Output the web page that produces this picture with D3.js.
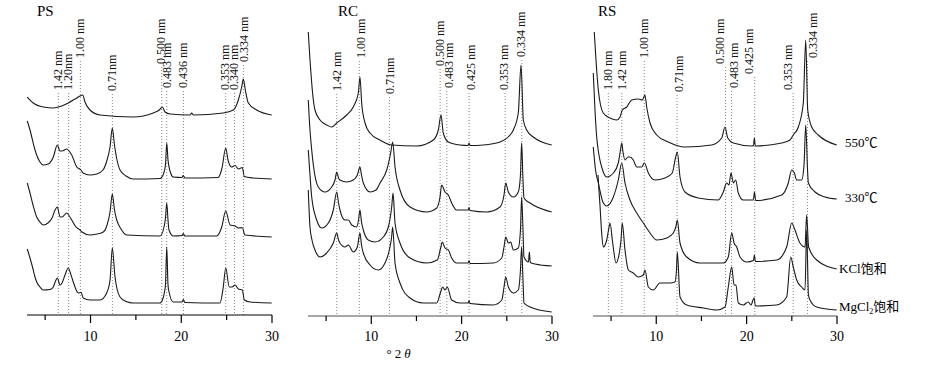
<!DOCTYPE html>
<html>
<head>
<meta charset="utf-8">
<script src="https://cdn.jsdelivr.net/npm/d3@7"></script>
<style>
  body { margin: 0; background: #fff; }
  svg { display: block; font-family: "Liberation Serif", "Noto Sans CJK SC", serif; }
</style>
</head>
<body>
<svg id="chart" width="926" height="365"></svg>
<script>
// ---- data: [2theta, relative intensity] ----
var psTrace1 = [[3.03,218],[3.69,212],[4.80,208],[5.90,207],[6.45,208],[6.82,209],[7.55,212],[8.29,216],[8.84,219],[9.14,220],[9.39,213],[9.94,205],[11.05,200],[14.71,198],[16.92,202],[17.58,205],[17.91,208],[18.21,203],[18.76,201],[20.96,200],[21.15,202],[21.33,200],[24.63,202],[25.74,205],[26.29,215],[26.66,228],[26.84,236],[27.06,225],[27.39,212],[28.31,205],[29.97,200]];
var psTrace2 = [[3.03,194],[3.33,185],[3.88,165],[4.43,153],[4.80,150],[5.35,151],[5.90,158],[6.34,170],[6.64,164],[6.86,164],[7.38,166],[7.63,164],[7.93,160],[8.48,148],[8.95,145],[9.17,142],[9.94,140],[10.68,141],[11.38,145],[11.82,155],[12.15,168],[12.40,187],[12.64,170],[12.92,155],[13.25,145],[13.91,139],[14.71,136],[17.66,136.5],[18.04,141],[18.26,150],[18.40,172],[18.54,155],[18.76,144],[19.12,138],[20.08,137.5],[20.22,139.5],[20.41,137],[24.05,137.5],[24.49,147],[24.90,167],[25.15,155],[25.56,148],[25.93,149.5],[26.29,146],[26.73,147.5],[26.95,138.5],[27.94,137],[29.97,136]];
var psTrace3 = [[3.03,132],[3.33,122],[3.66,110],[4.07,98],[4.43,93],[4.80,90],[5.31,92],[5.76,97],[6.09,105],[6.34,108],[6.64,98],[6.86,98],[7.38,102],[7.63,99.5],[7.93,95],[8.40,88],[8.84,85],[9.06,83],[9.94,80],[10.71,81],[11.41,83],[11.82,90],[12.15,103],[12.40,121],[12.64,105],[12.89,95],[13.36,86],[13.99,80],[17.66,79],[18.10,88],[18.26,97],[18.40,112],[18.54,95],[18.65,85],[19.12,79],[20.08,79.5],[20.22,81.5],[20.41,79],[23.91,79],[24.46,88],[24.90,104],[25.38,90],[25.93,89],[26.29,87],[26.73,87.3],[27.02,80],[29.97,78]];
var psTrace4 = [[3.03,66],[3.33,57],[3.69,45],[3.82,40],[4.07,33],[4.43,28],[4.80,25],[5.53,25.5],[5.90,28],[6.14,34],[6.34,37],[6.64,30],[6.86,32],[7.19,40],[7.55,47],[7.85,40],[8.10,33],[8.65,22],[8.95,22.7],[9.20,17],[9.94,15],[11.05,15],[11.78,22],[12.15,35],[12.40,67],[12.70,38],[13.25,18],[13.91,13.5],[14.71,12],[17.66,12],[18.03,18],[18.26,30],[18.40,68],[18.54,30],[18.68,22],[19.12,13],[20.08,13],[20.22,15.5],[20.41,12.5],[24.27,12],[24.63,28],[24.90,47],[25.29,28],[25.59,28],[25.93,30],[26.29,26],[26.73,25],[26.95,15],[27.58,13],[29.97,12]];

var rcTrace1 = [[3.03,283],[3.22,255],[3.41,232],[3.59,215],[3.77,205],[4.33,195],[5.07,190],[5.62,188],[6.18,192],[7.28,200],[8.01,208],[8.57,222],[8.75,238],[8.94,212],[9.31,192],[9.86,182],[10.97,175],[12.26,170],[15.03,169],[16.87,175],[17.42,185],[17.72,200],[17.97,182],[18.53,173],[19.82,170],[20.71,169.5],[20.82,172],[20.93,169.5],[22.40,170],[24.25,173],[25.16,178],[25.72,185],[26.27,202],[26.57,250],[26.83,195],[27.20,185],[27.93,178],[29.97,170]];
var rcTrace2 = [[3.03,215],[3.22,185],[3.41,165],[3.59,150],[4.14,128],[4.88,123],[5.62,128],[5.99,135],[6.18,143],[6.38,137],[6.54,135],[7.28,133],[8.01,135],[8.46,140],[8.75,148],[8.92,140],[9.12,132],[9.86,123],[10.52,125],[10.97,132],[11.71,145],[12.15,162],[12.37,173],[12.63,148],[13.18,125],[14.29,108],[16.13,103],[17.24,107],[17.61,118],[17.79,130],[18.16,123],[18.53,120],[18.90,112],[19.45,105],[20.71,105],[20.82,107.5],[20.93,104.5],[22.77,103],[24.25,108],[24.69,120],[24.88,132],[25.17,123],[25.72,118],[26.27,123],[26.51,140],[26.64,172],[26.79,135],[26.90,117],[27.57,112],[29.97,103]];
var rcTrace3 = [[3.03,165],[3.22,140],[3.41,118],[3.96,95],[4.52,87],[5.25,92],[5.80,105],[6.18,123],[6.38,112],[6.54,105],[7.09,95],[7.46,95],[7.84,90],[8.39,88],[8.59,95],[8.75,105],[8.92,93],[9.12,85],[9.67,75],[10.41,73],[11.33,78],[11.89,88],[12.26,108],[12.41,122],[12.63,92],[13.18,72],[14.29,57],[16.13,52],[17.31,55],[17.68,67],[17.86,73],[18.16,67],[18.53,65],[18.90,57],[19.45,52],[20.71,52],[20.82,54.5],[20.93,51.5],[23.51,52],[24.44,57],[24.69,68],[24.88,78],[25.17,72],[25.43,73],[25.72,65],[26.27,67],[26.51,85],[26.64,118],[26.79,85],[26.90,58],[27.40,53],[27.49,63],[27.60,52.5],[28.12,51],[29.97,49]];
var rcTrace4 = [[3.03,125],[3.22,88],[3.44,75],[3.77,65],[4.33,58],[5.07,62],[5.80,72],[6.18,82],[6.38,75],[6.54,72],[7.09,68],[7.46,70],[8.01,63],[8.46,68],[8.75,82],[8.92,70],[9.12,62],[9.86,50],[10.78,45],[11.52,52],[12.00,65],[12.24,77],[12.37,88],[12.63,52],[13.18,32],[14.29,17],[15.76,12],[17.24,12],[17.68,23],[17.90,28],[18.16,25],[18.41,28],[18.90,15],[19.82,12],[20.71,12],[20.82,14.5],[20.93,11.5],[23.51,10],[24.44,15],[24.69,28],[24.88,38],[25.17,28],[25.72,22],[26.27,25],[26.51,45],[26.64,68],[26.79,35],[26.90,12],[27.57,8],[29.97,3]];

var rsTrace1 = [[3.14,283],[3.33,255],[3.59,225],[3.83,210],[4.14,202],[4.88,197],[5.62,195],[5.99,198],[6.24,205],[6.73,208],[7.28,215],[8.01,216],[8.46,215],[8.75,220],[8.94,208],[9.31,192],[10.05,180],[11.33,173],[13.18,168],[16.13,170],[17.24,177],[17.61,188],[17.91,177],[18.53,172],[20.56,169],[20.76,169.5],[20.85,177],[20.96,169],[23.88,172],[24.80,175],[25.16,180],[25.72,188],[26.27,212],[26.54,275],[26.76,205],[27.20,188],[27.93,180],[29.97,170]];
var rsTrace2 = [[3.03,242],[3.22,205],[3.41,178],[3.66,160],[3.96,148],[4.52,138],[5.25,142],[5.80,152],[6.04,165],[6.18,172],[6.32,163],[6.54,155],[6.87,158],[7.09,158],[7.46,155],[7.84,148],[8.39,148],[8.68,152],[9.12,142],[9.86,135],[10.97,137],[11.77,142],[12.15,158],[12.33,163],[12.63,138],[13.18,123],[14.65,117],[16.86,115],[17.42,123],[17.79,132],[18.05,130],[18.27,142],[18.53,132],[18.79,135],[19.08,122],[19.63,115],[20.74,115],[20.87,123],[21.00,114.5],[23.88,120],[24.61,132],[24.99,145],[25.28,142],[25.54,135],[26.09,135],[26.35,150],[26.54,190],[26.74,145],[26.83,132],[27.57,123],[28.68,118],[29.97,116]];
var rsTrace3 = [[3.03,168],[3.28,145],[3.59,132],[4.14,112],[4.52,109],[5.25,118],[5.80,135],[6.18,152],[6.54,132],[7.09,115],[7.84,102],[8.57,92],[9.31,82],[10.05,75],[11.16,77],[11.89,82],[12.19,89],[12.33,95],[12.63,72],[13.37,58],[14.84,52],[17.42,52],[17.97,58],[18.35,82],[18.61,72],[18.90,68],[19.27,58],[20.01,53],[20.76,54.5],[20.85,60],[20.98,53.5],[23.33,55],[24.43,68],[24.99,92],[25.35,85],[25.90,72],[26.46,68],[26.64,100],[26.86,68],[27.75,55],[29.97,46]];
var rsTrace4 = [[3.55,140],[3.77,110],[3.96,82],[4.14,68],[4.52,75],[4.72,85],[4.88,92],[5.18,72],[5.55,52],[5.91,62],[6.10,75],[6.24,92],[6.54,65],[6.91,45],[7.46,42],[8.01,38],[8.57,40],[8.75,45],[9.12,28],[9.67,25],[10.41,32],[11.52,32],[12.07,33],[12.24,45],[12.33,63],[12.63,18],[13.37,10],[15.21,7],[16.69,5],[17.61,8],[17.97,28],[18.35,48],[18.61,30],[18.82,30],[19.08,12],[19.63,10],[20.18,13],[20.48,10],[20.82,17],[20.98,9],[23.33,10],[24.43,18],[24.88,58],[25.16,48],[25.54,35],[26.09,28],[26.46,25],[26.64,85],[26.84,20],[27.01,15],[27.75,8],[29.97,5]];

// d-spacing marker lines: label and 2theta position
var psMarkLabels = ["1.42 nm","1.20nm","1.00 nm","0.71nm","0.500 nm","0.483 nm","0.436 nm","0.353 nm","0.340 nm","0.334 nm"];
var psMarkPos = [6.45, 7.59, 8.88, 12.41, 17.85, 18.40, 20.24, 24.9, 25.86, 26.85];
var rcMarkLabels = ["1.42 nm","1.00 nm","0.71nm","0.500 nm","0.483 nm","0.425 nm","0.353 nm","0.334 nm"];
var rcMarkPos = [6.18, 8.68, 12.0, 17.62, 18.36, 20.83, 24.82, 26.66];
var rsMarkLabels = ["1.80 nm","1.42 nm","1.00 nm","0.71nm","0.500 nm","0.483 nm","0.425 nm","0.353 nm","0.334 nm"];
var rsMarkPos = [4.70, 6.19, 8.67, 12.3, 17.67, 18.33, 20.9, 25.15, 26.74];

var panelNames = ["PS", "RC", "RS"];
var traceNames = ["550℃", "330℃", "KCl饱和", "MgCl₂饱和"];
var tickValues = [5, 10, 15, 20, 25, 30];
var tickLabels = [10, 20, 30];

// ---- layout ----
var svg = d3.select("#chart");

var panels = [
  {name: panelNames[0], traces: [psTrace1, psTrace2, psTrace3, psTrace4], labels: psMarkLabels, pos: psMarkPos,
   range: [27, 272], axisY: 315, axisColor: "#000", axisWidth: 1,
   labelBottom: [90, 90, 58, 91, 64, 88, 88, 90, 90, 62], labelShift: [0, 0, 0, 0, 0, 1, 0, 0, 0, 1], titleX: 37},
  {name: panelNames[1], traces: [rcTrace1, rcTrace2, rcTrace3, rcTrace4], labels: rcMarkLabels, pos: rcMarkPos,
   range: [308, 552], axisY: 316, axisColor: "#8a8a8a", axisWidth: 1.6,
   labelBottom: [91, 58, 94, 66, 88, 90, 90, 57], labelShift: [1, 2, 1, 0, 3, 2, -1, 0], titleX: 338},
  {name: panelNames[2], traces: [rsTrace1, rsTrace2, rsTrace3, rsTrace4], labels: rsMarkLabels, pos: rsMarkPos,
   range: [593, 837], axisY: 316, axisColor: "#8a8a8a", axisWidth: 1.6,
   labelBottom: [90, 90, 58, 92, 64, 88, 74, 90, 58], labelShift: [0, 1, 0, 2, -5, 3, -5, -5, 6], titleX: 598}
];

var y = d3.scaleLinear().domain([0, 300]).range([315, 15]);

panels.forEach(function(p) {
  var x = d3.scaleLinear().domain([3, 30]).range(p.range);
  var g = svg.append("g");

  // dotted d-spacing lines
  g.selectAll("line.mark")
    .data(p.pos)
    .enter().append("line")
    .attr("class", "mark")
    .attr("x1", function(d) { return x(d); })
    .attr("x2", function(d) { return x(d); })
    .attr("y1", function(d, i) { return p.labelBottom[i] + 3; })
    .attr("y2", p.axisY)
    .attr("stroke", "#666")
    .attr("stroke-width", 0.8)
    .attr("stroke-dasharray", "1,2");

  g.selectAll("text.mark")
    .data(p.labels)
    .enter().append("text")
    .attr("class", "mark")
    .attr("transform", function(d, i) {
      return "translate(" + (x(p.pos[i]) + 3.5 + p.labelShift[i]) + "," + p.labelBottom[i] + ") rotate(-90)";
    })
    .attr("font-size", 12)
    .attr("fill", "#111")
    .text(function(d) { return d; });

  // traces
  var line = d3.line()
    .x(function(d) { return x(d[0]); })
    .y(function(d) { return y(d[1]); })
    .curve(d3.curveMonotoneX);

  g.selectAll("path.trace")
    .data(p.traces)
    .enter().append("path")
    .attr("class", "trace")
    .attr("d", line)
    .attr("fill", "none")
    .attr("stroke", "#1a1a1a")
    .attr("stroke-width", 1.1);

  // axis
  g.append("line")
    .attr("x1", p.range[0]).attr("x2", p.range[1])
    .attr("y1", p.axisY).attr("y2", p.axisY)
    .attr("stroke", p.axisColor)
    .attr("stroke-width", p.axisWidth);

  g.selectAll("line.tick")
    .data(tickValues)
    .enter().append("line")
    .attr("class", "tick")
    .attr("x1", function(d) { return x(d); })
    .attr("x2", function(d) { return x(d); })
    .attr("y1", p.axisY)
    .attr("y2", function(d) { return p.axisY + (d % 10 === 0 ? 8 : 5); })
    .attr("stroke", "#000")
    .attr("stroke-width", 1.2);

  g.selectAll("text.tl")
    .data(tickLabels)
    .enter().append("text")
    .attr("class", "tl")
    .attr("x", function(d) { return x(d); })
    .attr("y", 341)
    .attr("text-anchor", "middle")
    .attr("font-size", 14)
    .text(function(d) { return d; });

  g.append("text")
    .attr("x", p.titleX)
    .attr("y", 16)
    .attr("font-size", 15)
    .text(p.name);
});

// x axis title
var xt = svg.append("text")
  .attr("x", 400).attr("y", 358)
  .attr("text-anchor", "middle")
  .attr("font-size", 13)
  .attr("letter-spacing", 3);
xt.append("tspan").text("°2");
xt.append("tspan").attr("font-style", "italic").text("θ");

// right-hand trace names (RS panel)
var nameY = [147, 202, 273, 311];
var nameX = [845, 845, 839, 839];
traceNames.forEach(function(n, i) {
  var t = svg.append("text")
    .attr("x", nameX[i]).attr("y", nameY[i])
    .attr("font-size", 13);
  if (n.indexOf("₂") >= 0) {
    t.append("tspan").text("MgCl");
    t.append("tspan").attr("font-size", 8).attr("dy", 3).text("2");
    t.append("tspan").attr("dy", -3).text("饱和");
  } else {
    t.text(n);
  }
});
</script>
</body>
</html>
